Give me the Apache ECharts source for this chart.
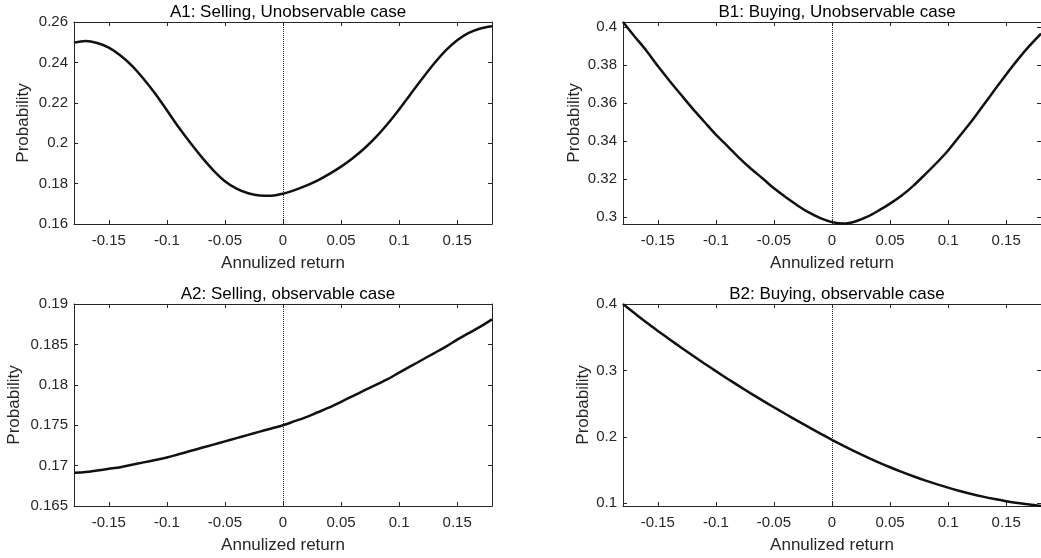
<!DOCTYPE html>
<html>
<head>
<meta charset="utf-8">
<script src="https://cdn.jsdelivr.net/npm/echarts@6/dist/echarts.min.js"></script>
<style>
html,body{margin:0;padding:0;background:#fff;}
#chart{width:1041px;height:558px;}
</style>
</head>
<body>
<div id="chart"></div>
<script>
// ---- data ----
var xs = [-0.18,-0.17,-0.16,-0.15,-0.14,-0.13,-0.12,-0.11,-0.10,-0.09,-0.08,-0.07,-0.06,-0.05,-0.04,-0.03,-0.02,-0.01,0,
          0.01,0.02,0.03,0.04,0.05,0.06,0.07,0.08,0.09,0.10,0.11,0.12,0.13,0.14,0.15,0.16,0.17,0.18];

var sellUnobs = [0.2498,0.2506,0.2496,0.2473,0.2434,0.2383,0.2318,0.2245,0.2163,0.2080,0.2003,0.1931,0.1866,0.1812,0.1775,0.1752,0.1741,0.1740,0.1750,
                 0.1768,0.1790,0.1816,0.1848,0.1884,0.1926,0.1974,0.2030,0.2095,0.2167,0.2244,0.2320,0.2393,0.2458,0.2510,0.2546,0.2568,0.2579];

var buyUnobs = [0.4026,0.3950,0.3876,0.3794,0.3717,0.3643,0.3570,0.3501,0.3433,0.3373,0.3311,0.3255,0.3204,0.3151,0.3105,0.3062,0.3024,0.2994,0.2973,
                0.2965,0.2976,0.3000,0.3033,0.3070,0.3113,0.3164,0.3223,0.3284,0.3350,0.3426,0.3502,0.3585,0.3668,0.3750,0.3828,0.3900,0.3965];

var sellObs = [0.1691,0.1692,0.1694,0.1696,0.1698,0.1701,0.1704,0.1707,0.1710,0.1714,0.1718,0.1722,0.1726,0.1730,0.1734,0.1738,0.1742,0.1746,0.1750,
               0.1755,0.1760,0.1766,0.1772,0.1779,0.1786,0.1793,0.1800,0.1807,0.1815,0.1823,0.1831,0.1839,0.1847,0.1856,0.1864,0.1872,0.1881];

var buyObs = [0.4000,0.3862,0.3726,0.3597,0.3471,0.3347,0.3226,0.3107,0.2991,0.2877,0.2766,0.2657,0.2551,0.2447,0.2345,0.2245,0.2147,0.2051,0.1957,
              0.1866,0.1779,0.1697,0.1618,0.1544,0.1474,0.1408,0.1346,0.1289,0.1236,0.1187,0.1142,0.1101,0.1065,0.1033,0.1005,0.0981,0.0961];

var xTicks = [-0.15,-0.1,-0.05,0,0.05,0.1,0.15];
var yTicksA1 = [0.16,0.18,0.2,0.22,0.24,0.26];
var yTicksB1 = [0.3,0.32,0.34,0.36,0.38,0.4];
var yTicksA2 = [0.165,0.17,0.175,0.18,0.185,0.19];
var yTicksB2 = [0.1,0.2,0.3,0.4];

var titles = ['A1: Selling, Unobservable case','B1: Buying, Unobservable case','A2: Selling, observable case','B2: Buying, observable case'];
var xName = 'Annulized return';
var yName = 'Probability';

// ---- layout ----
var FONT = 'Liberation Sans, Arial, Helvetica, sans-serif';
var AX = '#262626';
var panels = [
  {data: sellUnobs, yMin: 0.16,   yMax: 0.26,   yt: yTicksA1, left: 74,  top: 22,  width: 418, nameGap: 42},
  {data: buyUnobs,  yMin: 0.2963, yMax: 0.4026, yt: yTicksB1, left: 623, top: 22,  width: 418, nameGap: 40},
  {data: sellObs,   yMin: 0.165,  yMax: 0.19,   yt: yTicksA2, left: 74,  top: 304, width: 418, nameGap: 51},
  {data: buyObs,    yMin: 0.0960, yMax: 0.4002, yt: yTicksB2, left: 623, top: 304, width: 418, nameGap: 31}
];
var H = 202;

function fmt(v){ return String(parseFloat((+v).toFixed(4))); }

var option = {animation:false, backgroundColor:'#fff', title:[], grid:[], xAxis:[], yAxis:[], series:[]};

panels.forEach(function(p, i){
  option.grid.push({left:p.left, top:p.top, width:p.width, height:H, containLabel:false});
  option.title.push({
    text: titles[i], left: p.left + p.width/2, top: p.top - 23, textAlign:'center',
    textStyle:{fontFamily:FONT, fontSize:17, fontWeight:'normal', color:'#000'}
  });
  var xBase = {
    type:'value', gridIndex:i, min:-0.18, max:0.18,
    splitLine:{show:false},
    axisLine:{show:true, onZero:false, lineStyle:{color:AX, width:1}},
    axisTick:{show:true, inside:true, length:4, customValues:xTicks, lineStyle:{color:AX}}
  };
  option.xAxis.push(Object.assign({}, xBase, {
    position:'bottom',
    axisLabel:{show:true, customValues:xTicks, formatter:fmt, margin:9, color:AX, fontFamily:FONT, fontSize:15},
    name:xName, nameLocation:'middle', nameGap:31,
    nameTextStyle:{fontFamily:FONT, fontSize:17, color:AX}
  }));
  option.xAxis.push(Object.assign({}, xBase, {position:'top', axisLabel:{show:false}}));
  var yBase = {
    type:'value', gridIndex:i, min:p.yMin, max:p.yMax,
    splitLine:{show:false},
    axisLine:{show:true, onZero:false, lineStyle:{color:AX, width:1}},
    axisTick:{show:true, inside:true, length:4, customValues:p.yt, lineStyle:{color:AX}}
  };
  option.yAxis.push(Object.assign({}, yBase, {
    position:'left',
    axisLabel:{show:true, customValues:p.yt, formatter:fmt, margin:6, color:AX, fontFamily:FONT, fontSize:15},
    name:yName, nameLocation:'middle', nameGap:p.nameGap, nameRotate:90,
    nameTextStyle:{fontFamily:FONT, fontSize:17, color:AX}
  }));
  option.yAxis.push(Object.assign({}, yBase, {position:'right', axisLabel:{show:false}}));

  option.series.push({
    type:'line', xAxisIndex:2*i, yAxisIndex:2*i,
    data: xs.map(function(x, k){ return [x, p.data[k]]; }),
    showSymbol:false, smooth:0.3, clip:true,
    lineStyle:{color:'#111', width:2.5},
    markLine:{
      silent:true, symbol:['none','none'], label:{show:false},
      lineStyle:{type:'dotted', color:'#222', width:1},
      data:[{xAxis:0}]
    }
  });
});

var chart = echarts.init(document.getElementById('chart'), null, {renderer:'canvas'});
chart.setOption(option);
</script>
</body>
</html>
